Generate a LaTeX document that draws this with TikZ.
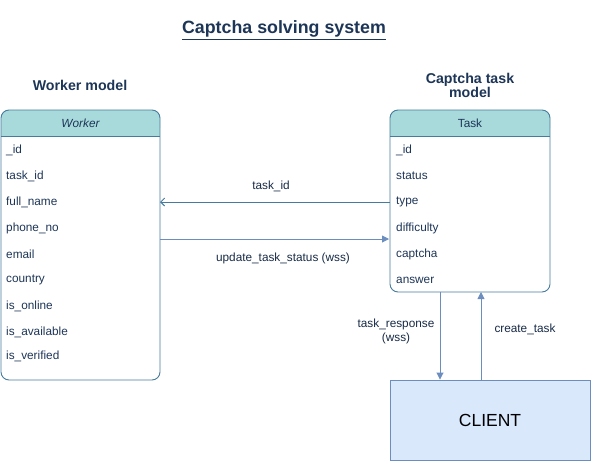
\documentclass[tikz,border=0pt]{standalone}
\usepackage{fontspec}
\setmainfont{Liberation Sans}
\usetikzlibrary{arrows.meta}
\definecolor{hdrfill}{HTML}{A8DADC}
\definecolor{boxline}{HTML}{457B9D}
\definecolor{navy}{HTML}{1D3557}
\definecolor{arrowc}{HTML}{6C8EBF}
\definecolor{clientfill}{HTML}{DAE8FC}
\begin{document}
\begin{tikzpicture}[x=1pt,y=-1pt,
  every node/.style={font=\fontsize{11.8}{14}\selectfont, text=navy, inner sep=0pt},
  field/.style={anchor=west},
  lbl/.style={text=navy!80!black},
  conn/.style={draw=arrowc, line width=0.9pt},
  filledtip/.style={-{Triangle[width=7pt,length=7pt]}},
  opentip/.style={-{Straight Barb[width=8pt,length=4pt]}}
]
\useasboundingbox (0,0) rectangle (591,461);
% title
\node (title) at (284,30) {\fontsize{17.8}{20}\selectfont\bfseries\underline{Captcha solving system}};
\node (wlabel) at (80,85) {\fontsize{14.2}{16}\selectfont\bfseries Worker model};
\node (tlabel) at (470,85) [align=center] {\fontsize{14.2}{17}\selectfont\bfseries Captcha task\\ \fontsize{14.2}{17}\selectfont\bfseries model};
% Worker box
\fill[hdrfill, rounded corners=8pt] (1,110) -- (160,110) -- (160,136) -- (1,136) -- cycle;
\fill[hdrfill] (1,125) rectangle (160,136);
\draw[boxline, line width=0.9pt, rounded corners=8pt] (1,110) rectangle (160,380);
\draw[boxline, line width=0.9pt] (1,136) -- (160,136);
\node (wtitle) at (80.5,123) {\itshape Worker};
\node[field] (w1) at (6,150) {\_id};
\node[field] (w2) at (6,176) {task\_id};
\node[field] (w3) at (6,202) {full\_name};
\node[field] (w4) at (6,228) {phone\_no};
\node[field] (w5) at (6,254) {email};
\node[field] (w6) at (6,280) {country};
\node[field] (w7) at (6,306) {is\_online};
\node[field] (w8) at (6,332) {is\_available};
\node[field] (w9) at (6,356) {is\_verified};
\coordinate (wA) at (160,202);
\coordinate (wB) at (160,239);
% Task box
\fill[hdrfill, rounded corners=8pt] (390,110) -- (550,110) -- (550,136) -- (390,136) -- cycle;
\fill[hdrfill] (390,125) rectangle (550,136);
\draw[boxline, line width=0.9pt, rounded corners=8pt] (390,110) rectangle (550,292);
\draw[boxline, line width=0.9pt] (390,136) -- (550,136);
\node (ttitle) at (470,123) {Task};
\node[field] (t1) at (396,150) {\_id};
\node[field] (t2) at (396,176) {status};
\node[field] (t3) at (396,202) {type};
\node[field] (t4) at (396,228) {difficulty};
\node[field] (t5) at (396,254) {captcha};
\node[field] (t6) at (396,280) {answer};
\coordinate (tA) at (390,202);
\coordinate (tB) at (389,239);
\coordinate (tC) at (440,292);
\coordinate (tD) at (481,292);
% Client
\node[draw=arrowc, fill=clientfill, line width=0.9pt, minimum width=200pt, minimum height=80pt] (client) at (490,420) {\fontsize{17.5}{20}\selectfont\color{black}CLIENT};
% connectors
\draw[conn, draw=boxline, opentip] (tA) -- (wA);
\node[lbl] (l1) at (271,186) {task\_id};
\draw[conn, filledtip] (wB) -- (tB);
\node[lbl] (l2) at (283,258) {update\_task\_status (wss)};
\draw[conn, filledtip] (tC) -- (client.north -| tC);
\node[lbl, align=center] (l3) at (396,331) {task\_response\\(wss)};
\draw[conn, filledtip] (client.north -| tD) -- (tD);
\node[lbl] (l4) at (525,329) {create\_task};
\end{tikzpicture}
\end{document}
